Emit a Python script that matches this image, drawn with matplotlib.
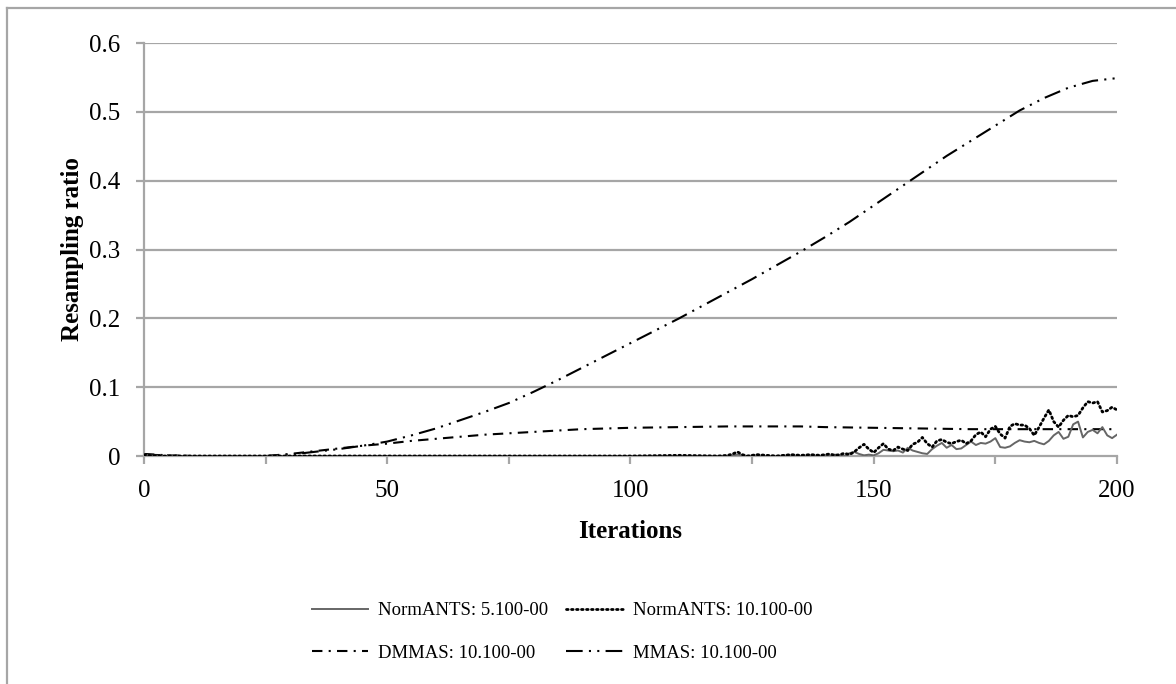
import matplotlib
matplotlib.use("Agg")
import matplotlib.pyplot as plt
from matplotlib.lines import Line2D
from matplotlib.ticker import MultipleLocator

plt.rcParams['font.family'] = ['Liberation Serif', 'DejaVu Serif']

# smooth series, sampled every 5 iterations
smooth_x = list(range(0, 201, 5))
mmas = [0.002, 0.001, 0.0, 0.0, 0.0, 0.0, 0.002, 0.006, 0.010, 0.015,
        0.021, 0.030, 0.040, 0.052, 0.064, 0.077, 0.093, 0.110, 0.128, 0.146,
        0.164, 0.182, 0.200, 0.219, 0.238, 0.257, 0.277, 0.297, 0.318, 0.340,
        0.364, 0.388, 0.412, 0.436, 0.458, 0.480, 0.502, 0.520, 0.535, 0.545,
        0.549]
dmmas = [0.003, 0.001, 0.0, 0.0, 0.0, 0.0, 0.003, 0.007, 0.011, 0.015,
         0.018, 0.022, 0.025, 0.028, 0.031, 0.033, 0.035, 0.037, 0.039, 0.040,
         0.041, 0.0415, 0.042, 0.0425, 0.043, 0.043, 0.043, 0.043, 0.042, 0.0415,
         0.041, 0.0405, 0.040, 0.0395, 0.039, 0.039, 0.039, 0.039, 0.039, 0.039,
         0.039]

# noisy NormANTS series
norm_x = [0, 2, 20, 40, 60, 80, 100, 110, 118, 120, 121, 122, 123, 124, 126,
          128, 130, 133, 135, 137, 139] + list(range(140, 201))
norm5 = [0.002, 0.0, 0.0, 0.0, 0.0, 0.0, 0.0, 0.0, 0.0, 0.0, 0.001, 0.002, 0.001, 0.0, 0.001,
         0.0, 0.0, 0.001, 0.0, 0.001, 0.0,
         0.001, 0.0, 0.002, 0.001, 0.0, 0.004, 0.006, 0.003, 0.001, 0.002,
         0.001, 0.004, 0.009, 0.008, 0.007, 0.008, 0.005, 0.012, 0.008, 0.006,
         0.004, 0.003, 0.010, 0.015, 0.019, 0.012, 0.016, 0.010, 0.011, 0.016,
         0.021, 0.016, 0.019, 0.018, 0.021, 0.026, 0.013, 0.012, 0.014, 0.019,
         0.023, 0.021, 0.020, 0.022, 0.019, 0.017, 0.022, 0.030, 0.035, 0.025,
         0.028, 0.046, 0.050, 0.027, 0.035, 0.038, 0.033, 0.042, 0.030, 0.026,
         0.031]
norm10 = [0.002, 0.0, 0.0, 0.0, 0.0, 0.0, 0.0, 0.001, 0.0, 0.001, 0.003, 0.006, 0.002, 0.0, 0.002,
          0.001, 0.0, 0.002, 0.001, 0.002, 0.001,
          0.002, 0.003, 0.001, 0.002, 0.004, 0.002, 0.006, 0.012, 0.017, 0.010,
          0.005, 0.012, 0.018, 0.010, 0.008, 0.013, 0.010, 0.008, 0.017, 0.020,
          0.027, 0.018, 0.013, 0.022, 0.024, 0.020, 0.018, 0.021, 0.023, 0.018,
          0.022, 0.031, 0.035, 0.028, 0.039, 0.043, 0.032, 0.026, 0.043, 0.047,
          0.045, 0.045, 0.040, 0.030, 0.042, 0.055, 0.067, 0.050, 0.042, 0.052,
          0.059, 0.057, 0.059, 0.070, 0.079, 0.077, 0.079, 0.064, 0.066, 0.071,
          0.067]

labels = ["NormANTS: 5.100-00", "NormANTS: 10.100-00",
          "DMMAS: 10.100-00", "MMAS: 10.100-00"]
ytick_labels = ['0', '0.1', '0.2', '0.3', '0.4', '0.5', '0.6']

fig = plt.figure(figsize=(11.76, 6.84), dpi=100)
ax = fig.add_axes([0.1224, 0.3333, 0.8274, 0.6038])

grid_col = '#a6a6a6'
for yv in [0.1, 0.2, 0.3, 0.4, 0.5, 0.6]:
    ax.axhline(yv, color=grid_col, lw=1.6, zorder=0)

h1, = ax.plot(norm_x, norm5, color='#666666', lw=1.4, zorder=3)
h2, = ax.plot(norm_x, norm10, color='black', lw=2.0,
              linestyle=(0, (0.6, 1.2)), dash_capstyle='round', zorder=4)
h3, = ax.plot(smooth_x, dmmas, color='black', lw=1.5,
              linestyle=(0, (5, 3, 1, 3)), zorder=2)
h4, = ax.plot(smooth_x, mmas, color='black', lw=1.5,
              linestyle=(0, (8, 3, 1, 3, 1, 3)), zorder=2)

ax.set_xlim(0, 200)
ax.set_ylim(0, 0.6)
ax.xaxis.set_major_locator(MultipleLocator(50))
ax.xaxis.set_minor_locator(MultipleLocator(25))
ax.set_yticks([0, 0.1, 0.2, 0.3, 0.4, 0.5, 0.6])
ax.set_yticklabels(ytick_labels)

for s in ['top', 'right']:
    ax.spines[s].set_visible(False)
for s in ['left', 'bottom']:
    ax.spines[s].set_color(grid_col)
    ax.spines[s].set_linewidth(1.6)

ax.tick_params(axis='both', which='both', direction='out', length=6,
               width=1.6, color=grid_col, labelsize=18)
ax.tick_params(axis='y', pad=11)
ax.tick_params(axis='x', pad=11)

ax.set_ylabel("Resampling ratio", fontsize=18, fontweight='bold', labelpad=4)
ax.set_xlabel("Iterations", fontsize=18, fontweight='bold', labelpad=13)

leg = fig.legend([h1, h3, h2, h4], [labels[0], labels[2], labels[1], labels[3]],
                 ncol=2, loc='center', bbox_to_anchor=(0.478, 0.076),
                 frameon=False, fontsize=13.5, handlelength=3.0,
                 handletextpad=0.55, columnspacing=0.95, labelspacing=1.35)

# outer chart-area border
fig.add_artist(Line2D([0.006, 0.006], [0, 0.989], transform=fig.transFigure,
                      color=grid_col, lw=1.6))
fig.add_artist(Line2D([0.006, 1.0], [0.989, 0.989], transform=fig.transFigure,
                      color=grid_col, lw=1.6))

fig.savefig("out.png", dpi=100)
